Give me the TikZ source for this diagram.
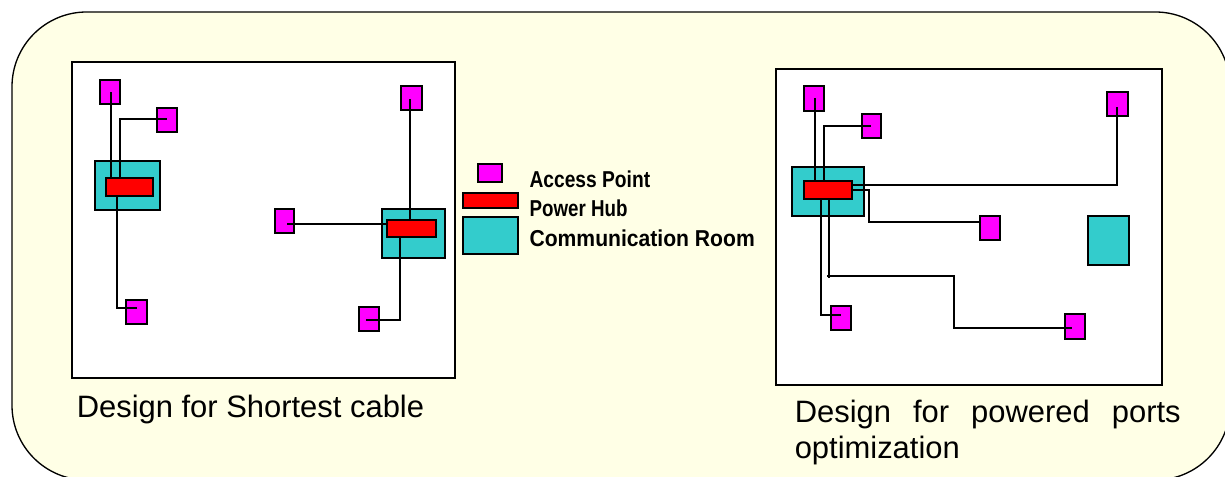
\documentclass[tikz,border=0pt]{standalone}
\usepackage{graphicx}
\usepackage{fontspec}
\setmainfont{Liberation Sans}
\usetikzlibrary{calc}
\definecolor{panelbg}{HTML}{FFFFE6}
\definecolor{roomteal}{HTML}{33CCCC}
\definecolor{apmagenta}{HTML}{FF00FF}
\definecolor{hubred}{HTML}{FF0000}
\tikzset{
  x=0.75pt,y=-0.75pt,
  panel/.style={draw=black,line width=1pt,fill=panelbg,rounded corners=56pt},
  shp/.style={draw=black,line width=1.1pt,inner sep=0pt,outer sep=0pt,rectangle},
  apbox/.style={shp,fill=apmagenta},
  hubbox/.style={shp,fill=hubred},
  roombox/.style={shp,fill=roomteal},
  planbox/.style={shp,line width=1pt,fill=white},
  wire/.style={draw=black,line width=1pt,line join=miter},
  legendtxt/.style={anchor=base west,inner sep=0pt,font=\fontsize{17.25}{20}\selectfont\bfseries},
  captiontxt/.style={inner sep=0pt,font=\fontsize{23.2}{27}\selectfont}
}
\newcommand{\pbox}[6]{\node[#1,minimum width={(#5-#3)*0.75pt},minimum height={(#6-#4)*0.75pt}] (#2) at ({(#3+#5)/2},{(#4+#6)/2}) {};}
\begin{document}
\begin{tikzpicture}
\useasboundingbox (0,0) rectangle (1225,477);
\clip (0,0) rectangle (1225,477);
\fill[white] (0,0) rectangle (1225,477);
\path[panel] (12,12) rectangle (1230,480);
% plans
\pbox{planbox}{planL}{72}{62}{455}{378}
\pbox{planbox}{planR}{776}{69}{1162}{385}
% left design
\pbox{roombox}{roomA}{95}{161}{160}{210}
\pbox{roombox}{roomB}{382}{209}{445}{258}
\pbox{apbox}{a1}{100}{80}{120}{104}
\pbox{apbox}{a2}{157}{108}{177}{132}
\pbox{apbox}{a3}{126}{300}{147}{324}
\pbox{apbox}{a4}{401}{86}{422}{110}
\pbox{apbox}{a5}{275}{209}{294}{233}
\pbox{apbox}{a6}{359}{307}{379}{331}
\pbox{hubbox}{hubA}{106}{178}{153}{196}
\pbox{hubbox}{hubB}{387}{220}{436}{237}
\draw[wire] ([shift={(5,0)}]hubA.north west) -- ([shift={(1,0)}]a1.center);
\draw[wire] ([shift={(14,0)}]hubA.north west) |- ([shift={(0,-1)}]a2.center);
\draw[wire] ([shift={(11,0)}]hubA.south west) |- ([shift={(0.5,-4)}]a3.center);
\draw[wire] ([shift={(-1.5,0)}]hubB.north) -- ([shift={(-1.5,1)}]a4.center);
\draw[wire] ([shift={(0,4)}]hubB.north west) -- ([shift={(2.5,3)}]a5.center);
\draw[wire] ([shift={(13,0)}]hubB.south west) |- ([shift={(-3,1)}]a6.center);
% legend
\pbox{apbox}{legA}{478}{164}{502}{182}
\pbox{hubbox}{legH}{463}{193}{518}{208}
\pbox{roombox}{legR}{463}{217}{518}{254}
\node[legendtxt] (legAt) at (529.3,188) {\scalebox{.835}[1]{Access Point}};
\node[legendtxt] (legHt) at (529.3,217) {\scalebox{.815}[1]{Power Hub}};
\node[legendtxt] (legRt) at (529.3,247) {\scalebox{.918}[1]{Communication Room}};
% right design
\pbox{roombox}{roomC}{792}{167}{864}{216}
\pbox{roombox}{roomD}{1088}{216}{1129}{265}
\pbox{apbox}{b1}{804}{86}{824}{111}
\pbox{apbox}{b2}{862}{114}{881}{138}
\pbox{apbox}{b3}{831}{306}{851}{330}
\pbox{apbox}{b4}{1107}{92}{1128}{116}
\pbox{apbox}{b5}{980}{216}{1000}{240}
\pbox{apbox}{b6}{1065}{314}{1085}{339}
\pbox{hubbox}{hubC}{804}{181}{852}{199}
\draw[wire] ([shift={(11,0)}]hubC.north west) -- ([shift={(1,0)}]b1.center);
\draw[wire] ([shift={(20,0)}]hubC.north west) |- ([shift={(-0.5,0)}]b2.center);
\draw[wire] ([shift={(17,0)}]hubC.south west) |- ([shift={(0,-3)}]b3.center);
\draw[wire] ([shift={(0,4)}]hubC.north east) -| ([shift={(-0.5,3)}]b4.center);
\draw[wire] ([shift={(0,9)}]hubC.north east) -- ++(17,0) |- ([shift={(0,-6)}]b5.west);
\coordinate (tap) at (829,278);
\draw[wire] ([shift={(25,0)}]hubC.south west) -- (tap);
\draw[wire] ([shift={(-2,-2)}]tap) -| (954,328) -- ([shift={(-3,1.5)}]b6.center);
% captions
\node[captiontxt,anchor=base west] (capL) at (76.5,417) {Design for Shortest cable};
\node[captiontxt,anchor=north west,text width=289.5pt,align=justify] (capR) at (794.5,399.5) {Design for powered ports optimization};
\end{tikzpicture}
\end{document}
